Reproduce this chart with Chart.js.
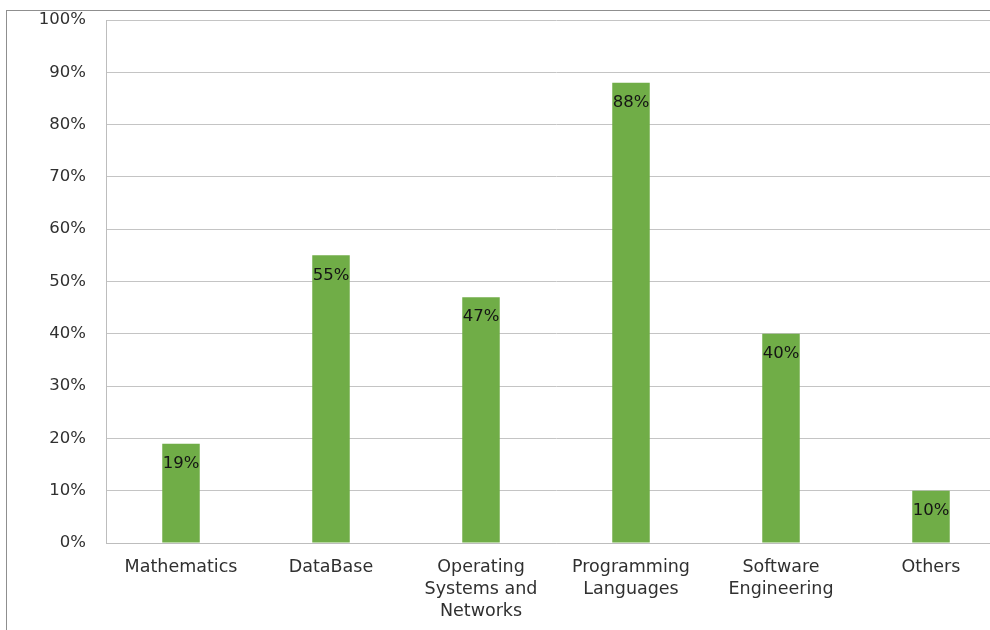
<!DOCTYPE html>
<html>
<head>
<meta charset="utf-8">
<script src="https://cdn.jsdelivr.net/npm/chart.js@4/dist/chart.umd.min.js"></script>
<style>
  html, body { margin: 0; padding: 0; background: #fff; overflow: hidden; width: 990px; height: 630px; }
  #wrap { position: relative; width: 1020px; height: 630px; }
</style>
</head>
<body>
<div id="wrap"><canvas id="c" width="1020" height="630"></canvas></div>
<script>
// Share of respondents per subject area
const categories = [
  'Mathematics',
  'DataBase',
  ['Operating', 'Systems and', 'Networks'],
  ['Programming', 'Languages'],
  ['Software', 'Engineering'],
  'Others'
];
const percentages = [19, 55, 47, 88, 40, 10];
const yTicks = [0, 10, 20, 30, 40, 50, 60, 70, 80, 90, 100];

const FONT = '"DejaVu Sans", Verdana, sans-serif';

// Thin frame around the whole chart
const framePlugin = {
  id: 'frame',
  beforeDraw(chart) {
    const ctx = chart.ctx;
    ctx.save();
    ctx.strokeStyle = '#8f8f8f';
    ctx.lineWidth = 1;
    ctx.strokeRect(6.5, 10.5, 2000, 2000);
    ctx.restore();
  }
};

// Value labels just inside the top of each bar
const valueLabels = {
  id: 'valueLabels',
  afterDatasetsDraw(chart) {
    const ctx = chart.ctx;
    const meta = chart.getDatasetMeta(0);
    ctx.save();
    ctx.font = '16.5px ' + FONT;
    ctx.fillStyle = '#141414';
    ctx.textAlign = 'center';
    ctx.textBaseline = 'middle';
    meta.data.forEach((bar, i) => {
      ctx.fillText(percentages[i] + '%', bar.x, bar.y + 20);
    });
    ctx.restore();
  }
};

new Chart(document.getElementById('c'), {
  type: 'bar',
  data: {
    labels: categories,
    datasets: [{
      data: percentages,
      backgroundColor: '#70AD47',
      borderWidth: 0,
      barPercentage: 0.5,
      categoryPercentage: 0.5
    }]
  },
  options: {
    responsive: false,
    animation: false,
    devicePixelRatio: 1,
    layout: { padding: { top: 20, left: 0, right: 14, bottom: 0 } },
    plugins: { legend: { display: false }, tooltip: { enabled: false } },
    scales: {
      x: {
        afterFit(scale) { scale.height = 87; scale.paddingLeft = 0; scale.paddingRight = 0; },
        grid: { display: false, drawTicks: false },
        border: { display: true, color: '#bdbdbd', width: 1 },
        ticks: {
          color: '#303030',
          font: { family: FONT, size: 17.5, lineHeight: 1.27 },
          padding: 13,
          maxRotation: 0,
          autoSkip: false
        }
      },
      y: {
        min: 0,
        max: 100,
        afterFit(scale) { scale.width = 106; scale.paddingTop = 0; scale.paddingBottom = 0; },
        afterBuildTicks(scale) { scale.ticks = yTicks.map(v => ({ value: v })); },
        grid: { color: '#c4c4c4', lineWidth: 1, drawTicks: false },
        border: { display: true, color: '#bdbdbd', width: 1 },
        ticks: {
          color: '#303030',
          font: { family: FONT, size: 16.5 },
          padding: 20,
          callback: v => v + '%'
        }
      }
    }
  },
  plugins: [framePlugin, valueLabels]
});
</script>
</body>
</html>
